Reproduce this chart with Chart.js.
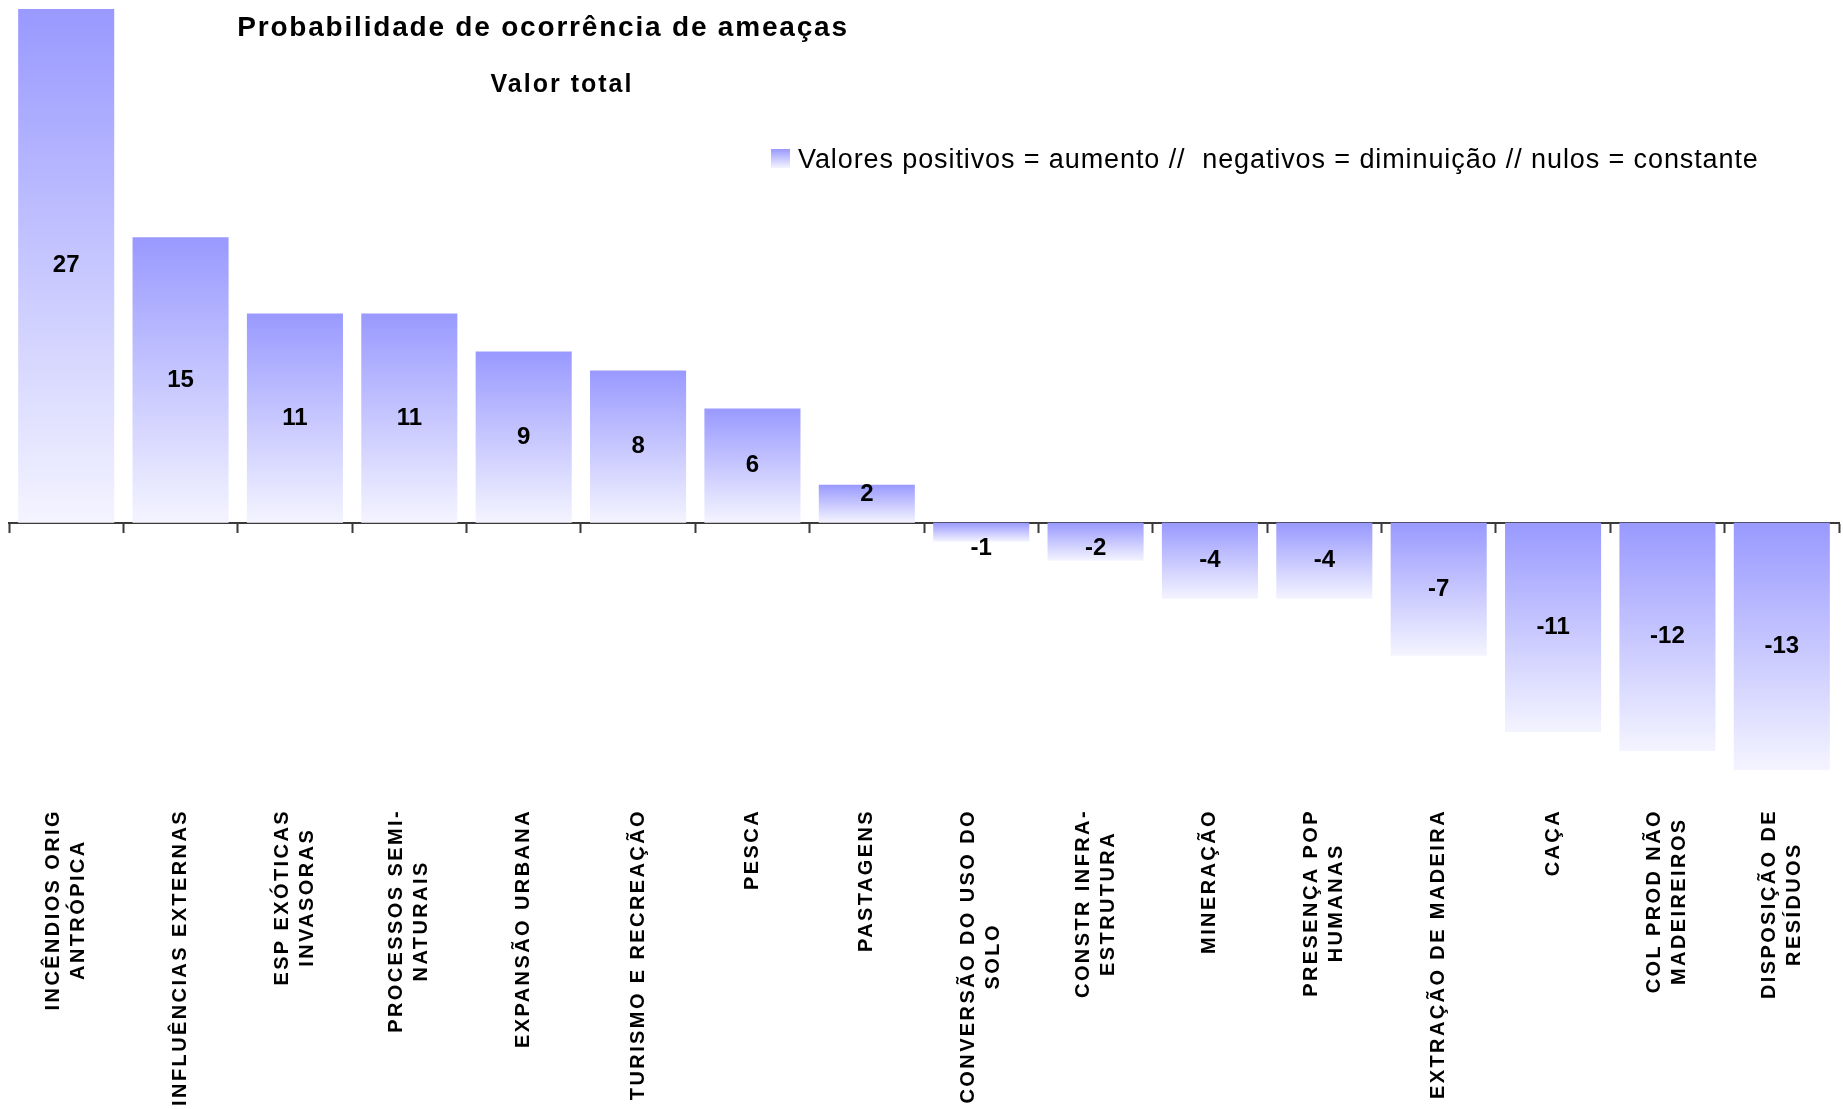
<!DOCTYPE html>
<html>
<head>
<meta charset="utf-8">
<script src="https://cdn.jsdelivr.net/npm/chart.js@4.4.1/dist/chart.umd.min.js"></script>
<style>
  html, body { margin: 0; padding: 0; background: #ffffff; }
  #caixa { width: 1843px; height: 1109px; position: relative; }
</style>
</head>
<body>
<div id="caixa"><canvas id="grafica"></canvas></div>
<script>
// Categorias (ameaças), cada linha do rótulo é um item
const ameacas = [
  ['INCÊNDIOS ORIG', 'ANTRÓPICA'],
  ['INFLUÊNCIAS EXTERNAS'],
  ['ESP EXÓTICAS', 'INVASORAS'],
  ['PROCESSOS SEMI-', 'NATURAIS'],
  ['EXPANSÃO URBANA'],
  ['TURISMO E RECREAÇÃO'],
  ['PESCA'],
  ['PASTAGENS'],
  ['CONVERSÃO DO USO DO', 'SOLO'],
  ['CONSTR INFRA-', 'ESTRUTURA'],
  ['MINERAÇÃO'],
  ['PRESENÇA POP', 'HUMANAS'],
  ['EXTRAÇÃO DE MADEIRA'],
  ['CAÇA'],
  ['COL PROD NÃO', 'MADEIREIROS'],
  ['DISPOSIÇÃO DE', 'RESÍDUOS']
];

// Valor total de cada ameaça
const valoresTotais = [27, 15, 11, 11, 9, 8, 6, 2, -1, -2, -4, -4, -7, -11, -12, -13];

// Limites do eixo de valores
const limiteMinimo = -13;
const limiteMaximo = 27;

// Textos
const titulo = 'Probabilidade de ocorrência de ameaças';
const subtitulo = 'Valor total';
const textoLegenda = 'Valores positivos = aumento //  negativos = diminuição // nulos = constante';

const corForte = '#9999ff';
const corClara = '#f4f4ff';
const fonte = '"Liberation Sans", Arial, sans-serif';

// Degradê vertical de cada barra (escuro em cima, claro embaixo)
function degradeBarra(context) {
  const chart = context.chart;
  const area = chart.chartArea;
  if (!area || context.raw === undefined) {
    return corForte;
  }
  const y = chart.scales.y;
  const topo = y.getPixelForValue(Math.max(context.raw, 0));
  const base = y.getPixelForValue(Math.min(context.raw, 0));
  const grad = chart.ctx.createLinearGradient(0, topo, 0, base);
  grad.addColorStop(0, corForte);
  grad.addColorStop(1, corClara);
  return grad;
}

// Valores escritos no meio das barras
const pluginValores = {
  id: 'valores',
  afterDatasetsDraw(chart) {
    const ctx = chart.ctx;
    const zero = chart.scales.y.getPixelForValue(0);
    const barras = chart.getDatasetMeta(0).data;
    ctx.save();
    ctx.font = 'bold 24px ' + fonte;
    ctx.fillStyle = '#000000';
    ctx.textAlign = 'center';
    ctx.textBaseline = 'middle';
    barras.forEach((barra, i) => {
      const v = valoresTotais[i];
      let y = (barra.y + barra.base) / 2;
      if (v < 0) {
        y = Math.max(y, zero + 26);
      } else {
        y = Math.min(y, zero - 28);
      }
      ctx.fillText(String(v), barra.x, y);
    });
    ctx.restore();
  }
};

// Rótulos verticais das categorias, título e legenda
const pluginTextos = {
  id: 'textos',
  afterDraw(chart) {
    const ctx = chart.ctx;
    const eixoX = chart.scales.x;
    const topoRotulos = chart.chartArea.bottom + 39;
    const alturaLinha = 25;

    ctx.save();
    ctx.fillStyle = '#000000';
    ctx.font = 'bold 20px ' + fonte;
    ctx.letterSpacing = '2.4px';
    ctx.textAlign = 'center';
    ctx.textBaseline = 'middle';
    ameacas.forEach((linhas, i) => {
      const x = eixoX.getPixelForTick(i);
      // linhas centradas entre si, bloco encostado no topo
      const larguraMax = Math.max(...linhas.map(l => ctx.measureText(l).width));
      ctx.save();
      ctx.translate(x, topoRotulos);
      ctx.rotate(-Math.PI / 2);
      linhas.forEach((linha, j) => {
        const desloc = (j - (linhas.length - 1) / 2) * alturaLinha;
        ctx.fillText(linha, -larguraMax / 2, desloc);
      });
      ctx.restore();
    });

    // Título e subtítulo
    ctx.textAlign = 'center';
    ctx.font = 'bold 28px ' + fonte;
    ctx.letterSpacing = '1.8px';
    ctx.fillText(titulo, 543, 28);
    ctx.font = 'bold 25px ' + fonte;
    ctx.letterSpacing = '2px';
    ctx.fillText(subtitulo, 562, 85);

    // Legenda
    const grad = ctx.createLinearGradient(0, 149, 0, 168);
    grad.addColorStop(0, corForte);
    grad.addColorStop(1, corClara);
    ctx.fillStyle = grad;
    ctx.fillRect(771, 149, 19, 19);
    ctx.fillStyle = '#000000';
    ctx.textAlign = 'left';
    ctx.font = '27px ' + fonte;
    ctx.letterSpacing = '0.9px';
    ctx.fillText(textoLegenda, 798, 161);
    ctx.restore();
  }
};

const grafica = new Chart(document.getElementById('grafica'), {
  type: 'bar',
  data: {
    labels: ameacas,
    datasets: [{
      data: valoresTotais,
      backgroundColor: degradeBarra,
      borderWidth: 0,
      categoryPercentage: 1,
      barPercentage: 0.84
    }]
  },
  options: {
    responsive: true,
    maintainAspectRatio: false,
    animation: false,
    layout: {
      padding: { left: 9, right: 4, top: 9, bottom: 339 }
    },
    plugins: {
      legend: { display: false },
      tooltip: { enabled: false },
      title: { display: false }
    },
    scales: {
      x: {
        position: { y: 0 },
        offset: true,
        ticks: { display: false },
        grid: {
          offset: true,
          drawOnChartArea: false,
          drawTicks: true,
          tickLength: 9,
          tickWidth: 2,
          tickColor: '#3a3a3a'
        },
        border: { display: true, color: '#3a3a3a', width: 2 }
      },
      y: {
        display: false,
        min: limiteMinimo,
        max: limiteMaximo
      }
    }
  },
  plugins: [pluginValores, pluginTextos]
});
</script>
</body>
</html>
